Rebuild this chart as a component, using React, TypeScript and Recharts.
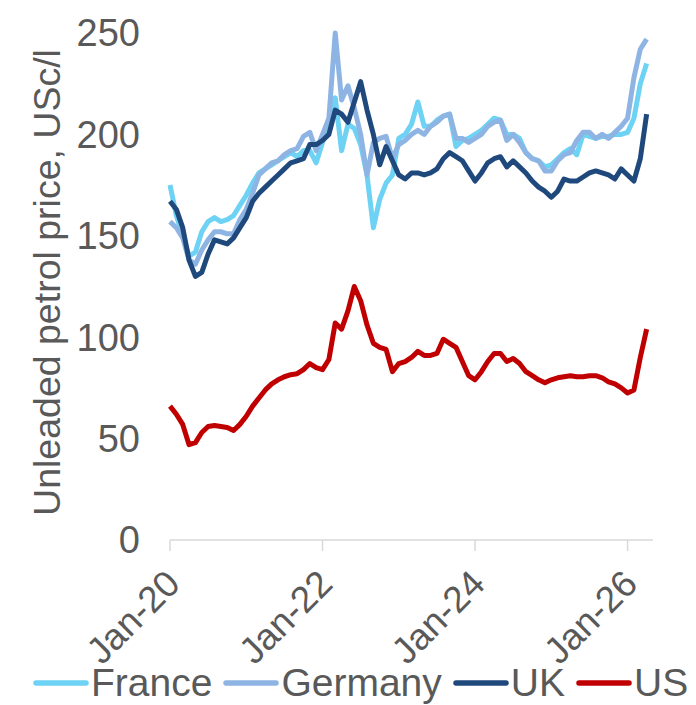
import React from 'react';
import { LineChart, Line, XAxis, YAxis, Legend, Label } from 'recharts';

// monthly, Jan-20 .. Apr-26
const monthNames = ['Jan', 'Feb', 'Mar', 'Apr', 'May', 'Jun', 'Jul', 'Aug', 'Sep', 'Oct', 'Nov', 'Dec'];
const years = ['20', '21', '22', '23', '24', '25', '26'];
const months = years.flatMap((y) => monthNames.map((m) => `${m}-${y}`)).slice(0, 76);

const france = [
  175, 160, 150, 140, 142, 152, 157, 159, 157, 158,
  160, 165, 170, 176, 181, 183, 185, 187, 189, 191,
  189, 192, 192, 186, 196, 205, 218, 192, 205, 203,
  195, 180, 154, 168, 176, 180, 198, 200, 205, 216,
  204, 204, 207, 209, 210, 194, 197, 198, 200, 202,
  205, 208, 207, 200, 200, 198, 191, 188, 187, 184,
  185, 188, 191, 193, 190, 200, 199, 198, 199, 199,
  200, 200, 201, 208, 225, 235,
];

const germany = [
  157, 154, 149, 138, 136, 143, 148, 152, 152, 151,
  151, 158, 163, 171, 180, 183, 186, 187, 190, 192,
  193, 199, 201, 192, 200, 208, 250, 217, 224, 213,
  200, 180, 196, 198, 199, 188, 195, 197, 200, 202,
  200, 204, 206, 209, 210, 198, 198, 196, 198, 200,
  204, 206, 207, 197, 200, 196, 191, 188, 187, 182,
  182, 187, 190, 191, 197, 201, 201, 198, 200, 198,
  201, 204, 208, 228, 242, 247,
];

const uk = [
  167, 163, 154, 138, 130, 132, 141, 148, 147, 146,
  149, 154, 159, 167, 171, 174, 177, 180, 183, 186,
  187, 188, 195, 195, 197, 200, 212, 210, 206, 216,
  226, 212, 200, 185, 194, 187, 180, 178, 181, 181,
  180, 181, 183, 188, 191, 189, 187, 182, 177, 181,
  186, 188, 189, 184, 187, 184, 181, 177, 174, 172,
  169, 172, 178, 177, 177, 179, 181, 182, 181, 180,
  178, 183, 180, 177, 188, 210,
];

const us = [
  66, 62, 57, 47, 48, 53, 56, 56.5, 56, 55.5,
  54, 57, 61, 66, 70, 74, 77, 79, 80.5, 81.5,
  82, 84, 87, 85, 84, 89, 107, 104, 113, 125,
  118, 106, 97, 95, 94, 83, 87, 88, 90, 93,
  91, 91, 92, 99, 97, 95, 88, 81, 79, 83,
  88, 92, 92, 88, 89.5, 87, 83, 81, 79, 77.5,
  79, 80, 80.5, 81, 80.5, 80.5, 81, 81, 80, 78,
  77, 75, 72.5, 74, 90, 104,
];

const xTicks = [0, 24, 48, 72];
const xTickLabels = ['Jan-20', 'Jan-22', 'Jan-24', 'Jan-26'];
const yTicks = [0, 50, 100, 150, 200, 250];

const series = [
  { key: 'France', values: france, color: '#6dd2f4' },
  { key: 'Germany', values: germany, color: '#8eb4e3' },
  { key: 'UK', values: uk, color: '#1f497d' },
  { key: 'US', values: us, color: '#c00000' },
];

const data = months.map((m, i) => {
  const row: Record<string, number | string> = { t: i, month: m };
  series.forEach((s) => {
    row[s.key] = s.values[i];
  });
  return row;
});

const FONT = '"Liberation Sans", Arial, sans-serif';
const TEXT = '#595959';

function XTick(props: any) {
  const { x, y, payload } = props;
  const label = xTickLabels[xTicks.indexOf(payload.value)];
  const ax = x + 12;
  const ay = y + 35;
  return (
    <text
      x={ax}
      y={ay}
      transform={`rotate(-45, ${ax}, ${ay})`}
      textAnchor="end"
      fill={TEXT}
      fontSize={37}
      fontFamily={FONT}
    >
      {label}
    </text>
  );
}

function YTitle(props: any) {
  const vb = props.viewBox;
  const tx = vb.x + 60;
  const ty = vb.y + vb.height / 2 - 4;
  return (
    <text
      x={tx}
      y={ty}
      transform={`rotate(-90, ${tx}, ${ty})`}
      textAnchor="middle"
      fill={TEXT}
      fontSize={37.5}
      fontFamily={FONT}
    >
      Unleaded petrol price, USc/l
    </text>
  );
}

function LegendRow(props: any) {
  const { payload } = props;
  return (
    <div
      style={{
        display: 'flex',
        alignItems: 'center',
        height: 44,
        paddingLeft: 33,
        fontFamily: FONT,
        fontSize: 39,
        color: TEXT,
        whiteSpace: 'nowrap',
      }}
    >
      {(payload || []).map((p: any) => (
        <div key={p.value} style={{ display: 'flex', alignItems: 'center', marginRight: 11 }}>
          <svg width={56} height={8} style={{ marginRight: 2 }}>
            <line x1={3} y1={4} x2={53} y2={4} stroke={p.color} strokeWidth={5.5} strokeLinecap="round" />
          </svg>
          <span>{p.value}</span>
        </div>
      ))}
    </div>
  );
}

export default function App() {
  return (
    <div style={{ position: 'absolute', left: 0, top: 0, width: 696, height: 705, background: '#fff' }}>
      <LineChart width={696} height={705} data={data} margin={{ top: 33, right: 43, left: 0, bottom: 0 }}>
        <XAxis
          dataKey="t"
          type="number"
          domain={[0, 76]}
          ticks={xTicks}
          tick={<XTick />}
          tickSize={11}
          tickMargin={0}
          height={121}
          stroke="#d9d9d9"
          strokeWidth={1.5}
          interval={0}
        />
        <YAxis
          domain={[0, 250]}
          ticks={yTicks}
          width={170}
          axisLine={false}
          tickLine={false}
          tickSize={0}
          tickMargin={30}
          tick={{ fill: TEXT, fontSize: 38, fontFamily: FONT }}
        >
          <Label content={<YTitle />} />
        </YAxis>
        <Legend verticalAlign="bottom" content={<LegendRow />} />
        {series.map((s) => (
          <Line
            key={s.key}
            dataKey={s.key}
            type="linear"
            stroke={s.color}
            strokeWidth={5}
            dot={false}
            strokeLinejoin="round"
            isAnimationActive={false}
          />
        ))}
      </LineChart>
    </div>
  );
}
